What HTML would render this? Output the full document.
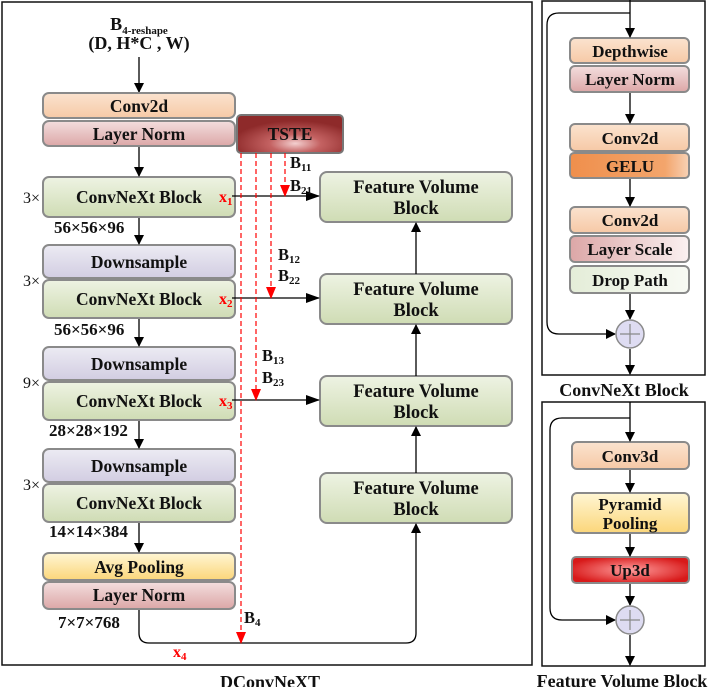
<!DOCTYPE html>
<html><head><meta charset="utf-8"><style>
html,body{margin:0;padding:0;background:#fff}
svg{display:block}
text{font-family:"Liberation Serif",serif;font-weight:bold;fill:#111}
</style></head><body>
<svg width="708" height="687" viewBox="0 0 708 687" xmlns="http://www.w3.org/2000/svg">
<defs>
<linearGradient id="or" x1="0" y1="0" x2="0" y2="1"><stop offset="0" stop-color="#fbe3cf"/><stop offset="1" stop-color="#f6c9a6"/></linearGradient>
<linearGradient id="pk" x1="0" y1="0" x2="0" y2="1"><stop offset="0" stop-color="#f3dede"/><stop offset="1" stop-color="#dca7a7"/></linearGradient>
<linearGradient id="gr" x1="0" y1="0" x2="0" y2="1"><stop offset="0" stop-color="#eef3e3"/><stop offset="1" stop-color="#cfdcb4"/></linearGradient>
<linearGradient id="pu" x1="0" y1="0" x2="0" y2="1"><stop offset="0" stop-color="#ecebf3"/><stop offset="1" stop-color="#d2cde2"/></linearGradient>
<linearGradient id="ye" x1="0" y1="0" x2="0" y2="1"><stop offset="0" stop-color="#fff6d4"/><stop offset="1" stop-color="#fbd67a"/></linearGradient>
<linearGradient id="ge" x1="0" y1="0" x2="1" y2="0"><stop offset="0" stop-color="#ef8f4c"/><stop offset="0.8" stop-color="#f3a56c"/><stop offset="1" stop-color="#f8d2b6"/></linearGradient>
<linearGradient id="ls" x1="0" y1="0" x2="1" y2="0"><stop offset="0" stop-color="#dca7a7"/><stop offset="1" stop-color="#fbf1f1"/></linearGradient>
<linearGradient id="dp" x1="0" y1="0" x2="1" y2="0"><stop offset="0" stop-color="#e4edd8"/><stop offset="1" stop-color="#f8faf4"/></linearGradient>
<radialGradient id="ts" cx="0.55" cy="0.75" r="0.6"><stop offset="0" stop-color="#f4d0d0"/><stop offset="0.4" stop-color="#c46262"/><stop offset="1" stop-color="#8e2a2a"/></radialGradient>
<radialGradient id="up" cx="0.5" cy="0.5" r="0.55"><stop offset="0" stop-color="#ff9c9c"/><stop offset="1" stop-color="#d81a1a"/></radialGradient>
<marker id="ar" markerWidth="10" markerHeight="10" refX="9" refY="5" orient="auto" markerUnits="userSpaceOnUse"><path d="M0,0 L10,5 L0,10 z" fill="#000"/></marker>
<marker id="ar2" markerWidth="14" markerHeight="10" refX="13" refY="5" orient="auto" markerUnits="userSpaceOnUse"><path d="M0,0 L14,5 L0,10 z" fill="#000"/></marker>
<marker id="rr" markerWidth="12" markerHeight="10" refX="11" refY="5" orient="auto" markerUnits="userSpaceOnUse"><path d="M0,0 L12,5 L0,10 z" fill="#f00"/></marker>
</defs>

<rect x="2" y="2" width="530" height="663" fill="none" stroke="#111" stroke-width="1.5"/>
<text x="270" y="688" font-size="18" text-anchor="middle">DConvNeXT</text>

<text x="139" y="30" font-size="18" text-anchor="middle">B<tspan font-size="11" dy="4">4-reshape</tspan></text>
<text x="139" y="49" font-size="18" text-anchor="middle">(D, H*C , W)</text>
<line x1="139" y1="57" x2="139" y2="92" stroke="#000" stroke-width="1.3" marker-end="url(#ar)"/>

<g stroke="#8a8a8a" stroke-width="2">
<rect x="43" y="93" width="192" height="25" rx="6" fill="url(#or)"/>
<rect x="43" y="121" width="192" height="25" rx="6" fill="url(#pk)"/>
<rect x="237" y="115" width="106" height="38" rx="4" fill="url(#ts)" stroke="#777"/>
<rect x="43" y="177" width="192" height="40" rx="6" fill="url(#gr)"/>
<rect x="43" y="245" width="192" height="33" rx="6" fill="url(#pu)"/>
<rect x="43" y="280" width="192" height="38" rx="6" fill="url(#gr)"/>
<rect x="43" y="347" width="192" height="33" rx="6" fill="url(#pu)"/>
<rect x="43" y="382" width="192" height="38" rx="6" fill="url(#gr)"/>
<rect x="43" y="449" width="192" height="33" rx="6" fill="url(#pu)"/>
<rect x="43" y="484" width="192" height="38" rx="6" fill="url(#gr)"/>
<rect x="43" y="553" width="192" height="27" rx="6" fill="url(#ye)"/>
<rect x="43" y="582" width="192" height="27" rx="6" fill="url(#pk)"/>
<rect x="320" y="172" width="192" height="50" rx="7" fill="url(#gr)"/>
<rect x="320" y="274" width="192" height="50" rx="7" fill="url(#gr)"/>
<rect x="320" y="376" width="192" height="50" rx="7" fill="url(#gr)"/>
<rect x="320" y="473" width="192" height="50" rx="7" fill="url(#gr)"/>
</g>
<g font-size="17.5" text-anchor="middle">
<text x="139" y="112">Conv2d</text>
<text x="139" y="140">Layer Norm</text>
<text x="290" y="140">TSTE</text>
<text x="139" y="203">ConvNeXt Block</text>
<text x="139" y="268">Downsample</text>
<text x="139" y="305">ConvNeXt Block</text>
<text x="139" y="370">Downsample</text>
<text x="139" y="407">ConvNeXt Block</text>
<text x="139" y="472">Downsample</text>
<text x="139" y="509">ConvNeXt Block</text>
<text x="139" y="573">Avg Pooling</text>
<text x="139" y="601">Layer Norm</text>
</g>
<g font-size="18.5" text-anchor="middle">
<text x="416" y="193">Feature Volume</text><text x="416" y="214">Block</text>
<text x="416" y="295">Feature Volume</text><text x="416" y="316">Block</text>
<text x="416" y="397">Feature Volume</text><text x="416" y="418">Block</text>
<text x="416" y="494">Feature Volume</text><text x="416" y="515">Block</text>
</g>
<g font-size="16">
<text x="23" y="203" style="font-weight:normal">3×</text>
<text x="23" y="286" style="font-weight:normal">3×</text>
<text x="23" y="388" style="font-weight:normal">9×</text>
<text x="23" y="490" style="font-weight:normal">3×</text>
</g>
<g font-size="17">
<text x="54" y="233">56×56×96</text>
<text x="54" y="335">56×56×96</text>
<text x="49" y="436">28×28×192</text>
<text x="49" y="537">14×14×384</text>
<text x="58" y="628">7×7×768</text>
</g>
<g stroke="#000" stroke-width="1.3" fill="none">
<line x1="139" y1="147" x2="139" y2="176" marker-end="url(#ar)"/>
<line x1="139" y1="218" x2="139" y2="244" marker-end="url(#ar)"/>
<line x1="139" y1="319" x2="139" y2="346" marker-end="url(#ar)"/>
<line x1="139" y1="421" x2="139" y2="448" marker-end="url(#ar)"/>
<line x1="139" y1="523" x2="139" y2="552" marker-end="url(#ar)"/>
<line x1="232" y1="196" x2="319" y2="196" marker-end="url(#ar2)"/>
<line x1="232" y1="298" x2="319" y2="298" marker-end="url(#ar2)"/>
<line x1="232" y1="400" x2="319" y2="400" marker-end="url(#ar2)"/>
<line x1="416" y1="274" x2="416" y2="223" marker-end="url(#ar)"/>
<line x1="416" y1="376" x2="416" y2="325" marker-end="url(#ar)"/>
<line x1="416" y1="473" x2="416" y2="427" marker-end="url(#ar)"/>
<path d="M139,610 V633 Q139,643 149,643 H406 Q416,643 416,633 V524" marker-end="url(#ar)"/>
</g>
<g stroke="#f00" stroke-width="1.2" stroke-dasharray="5,3" fill="none">
<line x1="285" y1="153" x2="285" y2="196" marker-end="url(#rr)"/>
<line x1="271" y1="153" x2="271" y2="298" marker-end="url(#rr)"/>
<line x1="256" y1="153" x2="256" y2="400" marker-end="url(#rr)"/>
<line x1="241" y1="153" x2="241" y2="643" marker-end="url(#rr)"/>
</g>
<g font-size="16">
<text x="219" y="202" style="fill:#f00">x<tspan font-size="11" dy="3">1</tspan></text>
<text x="219" y="304" style="fill:#f00">x<tspan font-size="11" dy="3">2</tspan></text>
<text x="219" y="406" style="fill:#f00">x<tspan font-size="11" dy="3">3</tspan></text>
<text x="173" y="657" style="fill:#f00">x<tspan font-size="11" dy="3">4</tspan></text>
</g>
<g font-size="16.5">
<text x="290" y="168">B<tspan font-size="11" dy="3">11</tspan></text>
<text x="290" y="191">B<tspan font-size="11" dy="3">21</tspan></text>
<text x="278" y="260">B<tspan font-size="11" dy="3">12</tspan></text>
<text x="278" y="281">B<tspan font-size="11" dy="3">22</tspan></text>
<text x="262" y="361">B<tspan font-size="11" dy="3">13</tspan></text>
<text x="262" y="383">B<tspan font-size="11" dy="3">23</tspan></text>
<text x="244" y="623">B<tspan font-size="11" dy="3">4</tspan></text>
</g>

<rect x="542" y="1" width="163" height="374" fill="none" stroke="#111" stroke-width="1.5"/>
<text x="624" y="396" font-size="18" text-anchor="middle">ConvNeXt Block</text>
<g stroke="#8a8a8a" stroke-width="2">
<rect x="570" y="38" width="119" height="25" rx="5" fill="url(#or)"/>
<rect x="570" y="66" width="119" height="26" rx="5" fill="url(#pk)"/>
<rect x="570" y="124" width="119" height="27" rx="5" fill="url(#or)"/>
<rect x="570" y="153" width="119" height="25" rx="4" fill="url(#ge)"/>
<rect x="570" y="207" width="119" height="26" rx="5" fill="url(#or)"/>
<rect x="570" y="236" width="119" height="26" rx="5" fill="url(#ls)"/>
<rect x="570" y="266" width="119" height="27" rx="5" fill="url(#dp)"/>
</g>
<g font-size="17" text-anchor="middle">
<text x="630" y="57">Depthwise</text>
<text x="630" y="85">Layer Norm</text>
<text x="630" y="144">Conv2d</text>
<text x="630" y="172">GELU</text>
<text x="630" y="226">Conv2d</text>
<text x="630" y="255">Layer Scale</text>
<text x="630" y="286">Drop Path</text>
</g>
<g stroke="#000" stroke-width="1.3" fill="none">
<line x1="630" y1="0" x2="630" y2="37" marker-end="url(#ar)"/>
<path d="M630,13 H559 Q547,13 547,25 V322 Q547,334 559,334 H615" marker-end="url(#ar)"/>
<line x1="630" y1="93" x2="630" y2="123" marker-end="url(#ar)"/>
<line x1="630" y1="179" x2="630" y2="206" marker-end="url(#ar)"/>
<line x1="630" y1="294" x2="630" y2="319" marker-end="url(#ar)"/>
<line x1="630" y1="349" x2="630" y2="374" marker-end="url(#ar)"/>
</g>
<circle cx="630" cy="334" r="14" fill="#dedcf2" stroke="#8a8a8a" stroke-width="1.5"/>
<path d="M620,334 H640 M630,324 V344" stroke="#888" stroke-width="1.2"/>

<rect x="542" y="402" width="163" height="264" fill="none" stroke="#111" stroke-width="1.5"/>
<text x="622" y="687" font-size="18" text-anchor="middle">Feature Volume Block</text>
<g stroke="#8a8a8a" stroke-width="2">
<rect x="572" y="442" width="117" height="27" rx="5" fill="url(#or)"/>
<rect x="572" y="493" width="117" height="40" rx="5" fill="url(#ye)"/>
<rect x="572" y="557" width="117" height="26" rx="4" fill="url(#up)"/>
</g>
<g font-size="17" text-anchor="middle">
<text x="630" y="462">Conv3d</text>
<text x="630" y="510">Pyramid</text>
<text x="630" y="529">Pooling</text>
<text x="630" y="576">Up3d</text>
</g>
<g stroke="#000" stroke-width="1.3" fill="none">
<line x1="630" y1="402" x2="630" y2="441" marker-end="url(#ar)"/>
<path d="M630,418 H562 Q550,418 550,430 V608 Q550,620 562,620 H615" marker-end="url(#ar)"/>
<line x1="630" y1="470" x2="630" y2="492" marker-end="url(#ar)"/>
<line x1="630" y1="534" x2="630" y2="556" marker-end="url(#ar)"/>
<line x1="630" y1="584" x2="630" y2="605" marker-end="url(#ar)"/>
<line x1="630" y1="635" x2="630" y2="665" marker-end="url(#ar)"/>
</g>
<circle cx="630" cy="620" r="14" fill="#dedcf2" stroke="#8a8a8a" stroke-width="1.5"/>
<path d="M620,620 H640 M630,610 V630" stroke="#888" stroke-width="1.2"/>
</svg>
</body></html>
